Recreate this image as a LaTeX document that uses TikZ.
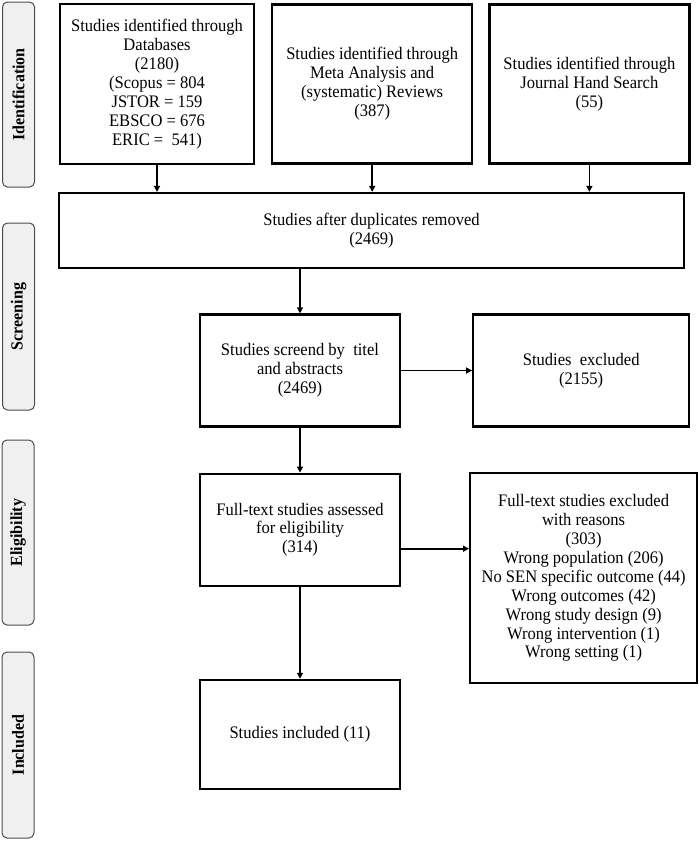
\documentclass[tikz,border=0pt]{standalone}
\usepackage{fontspec}
\setmainfont[FakeStretch=0.94]{Liberation Serif}
\usetikzlibrary{arrows.meta,positioning}

\begin{document}
\begin{tikzpicture}[x=1pt,y=-1pt,
  box/.style={rectangle,draw,line width=2.2pt,align=center,inner sep=2pt,font=\fontsize{17.6}{18.9}\selectfont},
  phase/.style={rectangle,rounded corners=5pt,draw=black!70,line width=1pt,fill=black!6,rotate=90,minimum height=32pt,font=\fontsize{17}{18}\selectfont\bfseries},
  arr/.style={-{Triangle[length=6pt,width=6pt]},line width=1.6pt},
  node distance=16pt]
  \useasboundingbox (0,0) rectangle (699,841);
  \node[phase,minimum width=185pt] (pid) at (18.5,94.5) {Identification};
  \node[phase,minimum width=187pt] (pscr) at (18.5,316.5) {Screening};
  \node[phase,minimum width=185pt] (pelg) at (18,532.5) {Eligibility};
  \node[phase,minimum width=186pt] (pinc) at (18,745) {Included};
  \node[box,minimum width=194pt,minimum height=160pt] (db) at (157,84) {Studies identified through\\Databases\\(2180)\\(Scopus = 804\\JSTOR = 159\\EBSCO = 676\\ERIC =\ \ 541)};
  \node[box,minimum width=200pt,minimum height=159pt,right=16pt of db] (meta) {Studies identified through\\Meta Analysis and\\(systematic) Reviews\\(387)};
  \node[box,minimum width=200pt,minimum height=159pt,right=15pt of meta] (hs) {Studies identified through\\Journal Hand Search\\(55)};
  \node[box,minimum width=625pt,minimum height=75pt] (dup) at (371.5,230.5) {Studies after duplicates removed\\(2469)};
  \node[box,minimum width=200pt,minimum height=112pt] (scr) at (300,370.5) {Studies screend by\ \ titel\\and abstracts\\(2469)};
  \node[box,minimum width=216pt,minimum height=112pt,right=71pt of scr] (exc) {Studies\ \ excluded\\(2155)};
  \node[box,minimum width=200pt,minimum height=112pt,below=45pt of scr] (ft) {Full-text studies assessed\\for eligibility\\(314)};
  \node[box,minimum width=227pt,minimum height=210pt,anchor=north west] (rsn) at (469,472) {Full-text studies excluded\\with reasons\\(303)\\Wrong population (206)\\No SEN specific outcome (44)\\Wrong outcomes (42)\\Wrong study design (9)\\Wrong intervention (1)\\Wrong setting (1)};
  \node[box,minimum width=200pt,minimum height=109pt,below=92pt of ft] (inc) {Studies included (11)};
  \draw[arr] (db.south) -- (db.south |- dup.north);
  \draw[arr] (meta.south) -- (meta.south |- dup.north);
  \draw[arr] (hs.south) -- (hs.south |- dup.north);
  \draw[arr] (scr.north |- dup.south) -- (scr.north);
  \draw[arr] (scr.east) -- (exc.west);
  \draw[arr] (scr) -- (ft);
  \draw[arr] ([yshift=-19pt]ft.east) -- ([yshift=-19pt]ft.east -| rsn.west);
  \draw[arr] (ft) -- (inc);
\end{tikzpicture}
\end{document}
